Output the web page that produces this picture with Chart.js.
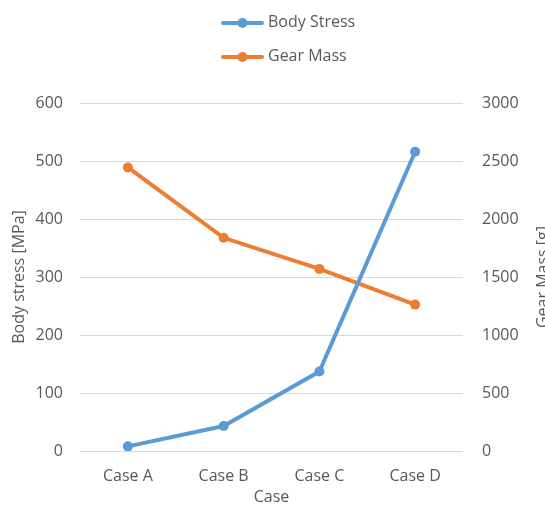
<!DOCTYPE html>
<html>
<head>
<meta charset="utf-8">
<script src="https://cdn.jsdelivr.net/npm/chart.js@4/dist/chart.umd.min.js"></script>
<style>
  html, body { margin: 0; padding: 0; background: #fff; overflow: hidden; }
  #wrap { width: 560px; height: 515px; }
</style>
</head>
<body>
<div id="wrap"><canvas id="c" width="560" height="515"></canvas></div>
<script>
// Load cases and measured results
const cases = ['Case A', 'Case B', 'Case C', 'Case D'];
const bodyStress = [8, 43, 137, 516];       // MPa
const gearMass = [2445, 1838, 1570, 1262];  // g

const stressTicks = { min: 0, max: 600, step: 100 };
const massTicks = { min: 0, max: 3000, step: 500 };

const BLUE = '#5b9bd5';
const ORANGE = '#ed7d31';
const TEXT = '#595959';
const GRID = '#d9d9d9';
const FONT = "'Open Sans', 'Noto Sans', sans-serif";

// Stacked legend at the top and the right-hand axis title (reads bottom to top)
const extras = {
  id: 'extras',
  afterDraw(chart) {
    const ctx = chart.ctx;
    ctx.save();
    const items = [
      { label: chart.data.datasets[0].label, color: BLUE, y: 23 },
      { label: chart.data.datasets[1].label, color: ORANGE, y: 57 }
    ];
    items.forEach(it => {
      ctx.strokeStyle = it.color;
      ctx.lineWidth = 4;
      ctx.lineCap = 'round';
      ctx.beginPath();
      ctx.moveTo(223, it.y);
      ctx.lineTo(262, it.y);
      ctx.stroke();
      ctx.fillStyle = it.color;
      ctx.beginPath();
      ctx.arc(242.5, it.y, 5, 0, Math.PI * 2);
      ctx.fill();
      ctx.fillStyle = TEXT;
      ctx.font = '16px ' + FONT;
      ctx.textAlign = 'left';
      ctx.textBaseline = 'middle';
      ctx.fillText(it.label, 268, it.y - 1);
    });
    const a = chart.chartArea;
    ctx.translate(548, (a.top + a.bottom) / 2);
    ctx.rotate(-Math.PI / 2);
    ctx.fillStyle = TEXT;
    ctx.font = '16px ' + FONT;
    ctx.textAlign = 'center';
    ctx.textBaseline = 'alphabetic';
    ctx.fillText('Gear Mass [g]', 0, 0);
    ctx.restore();
  }
};

const plain = v => String(v);

new Chart(document.getElementById('c'), {
  type: 'line',
  data: {
    labels: cases,
    datasets: [
      {
        label: 'Body Stress',
        data: bodyStress,
        yAxisID: 'y',
        borderColor: BLUE,
        backgroundColor: BLUE,
        borderWidth: 4,
        pointRadius: 5,
        pointBorderWidth: 0,
        pointBackgroundColor: BLUE,
        tension: 0
      },
      {
        label: 'Gear Mass',
        data: gearMass,
        yAxisID: 'y1',
        borderColor: ORANGE,
        backgroundColor: ORANGE,
        borderWidth: 4,
        pointRadius: 5,
        pointBorderWidth: 0,
        pointBackgroundColor: ORANGE,
        tension: 0
      }
    ]
  },
  options: {
    responsive: false,
    animation: false,
    events: [],
    layout: { padding: { top: 103, bottom: 0, left: 0, right: 0 } },
    plugins: {
      legend: { display: false },
      tooltip: { enabled: false }
    },
    scales: {
      x: {
        offset: true,
        grid: { display: false, drawTicks: false },
        border: { display: false },
        ticks: { color: TEXT, font: { family: FONT, size: 16 }, padding: 16 },
        title: {
          display: true, text: 'Case', color: TEXT,
          font: { family: FONT, size: 16 }, padding: { top: 0, bottom: 8 }
        },
        afterFit(s) { s.height = 64; }
      },
      y: {
        position: 'left',
        min: stressTicks.min, max: stressTicks.max,
        grid: { color: GRID, lineWidth: 1, drawTicks: false },
        border: { display: false },
        ticks: { stepSize: stressTicks.step, color: TEXT, font: { family: FONT, size: 16 }, padding: 17, callback: plain },
        title: {
          display: true, text: 'Body stress [MPa]', color: TEXT,
          font: { family: FONT, size: 16 }, padding: { top: 10, bottom: 0 }
        },
        afterFit(s) { s.width = 80; }
      },
      y1: {
        position: 'right',
        min: massTicks.min, max: massTicks.max,
        grid: { display: false, drawTicks: false },
        border: { display: false },
        ticks: { stepSize: massTicks.step, color: TEXT, font: { family: FONT, size: 16 }, padding: 19, callback: plain },
        afterFit(s) { s.width = 97; }
      }
    }
  },
  plugins: [extras]
});
</script>
</body>
</html>
